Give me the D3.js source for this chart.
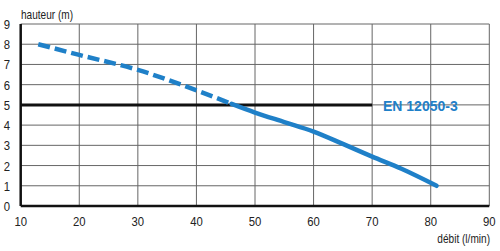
<!DOCTYPE html>
<html>
<head>
<meta charset="utf-8">
<script src="https://cdn.jsdelivr.net/npm/d3@7"></script>
<style>
  body { margin: 0; background: #fff; }
  text { font-family: "Liberation Sans", Arial, sans-serif; }
</style>
</head>
<body>
<svg></svg>
<script>
const width = 500;
const height = 251;

const xTicks = [10, 20, 30, 40, 50, 60, 70, 80, 90];
const yTicks = [0, 1, 2, 3, 4, 5, 6, 7, 8, 9];
const dashedFlow = [13, 20, 30, 40, 46];
const dashedHeight = [8.0, 7.47, 6.73, 5.72, 5.05];
const solidFlow = [46, 50, 55, 60, 65, 70, 75, 81];
const solidHeight = [5.05, 4.62, 4.15, 3.68, 3.07, 2.44, 1.84, 1.0];
const normFlow = [10, 70];
const normHeight = 5;
const normLabel = 'EN 12050-3';

const svg = d3.select('svg')
  .attr('width', width)
  .attr('height', height);

const x = d3.scaleLinear().domain([10, 90]).range([20.7, 489.3]);
const y = d3.scaleLinear().domain([0, 9]).range([206, 24]);

const blue = '#1f80c8';
const narrow = 0.84;

// grid
svg.append('g')
  .selectAll('line')
  .data(xTicks.slice(1))
  .join('line')
  .attr('x1', d => x(d))
  .attr('x2', d => x(d))
  .attr('y1', y(0))
  .attr('y2', y(9))
  .attr('stroke', '#666')
  .attr('stroke-width', 1);

svg.append('g')
  .selectAll('line')
  .data(yTicks.slice(1))
  .join('line')
  .attr('x1', x(10))
  .attr('x2', x(90))
  .attr('y1', d => y(d))
  .attr('y2', d => y(d))
  .attr('stroke', '#666')
  .attr('stroke-width', 1);

// axes
svg.append('line')
  .attr('x1', x(10)).attr('x2', x(10))
  .attr('y1', y(0)).attr('y2', y(9))
  .attr('stroke', '#111').attr('stroke-width', 2.5);

svg.append('line')
  .attr('x1', x(10)).attr('x2', x(90))
  .attr('y1', y(0)).attr('y2', y(0))
  .attr('stroke', '#111').attr('stroke-width', 2.5);

// tick labels
svg.append('g')
  .selectAll('text')
  .data(yTicks)
  .join('text')
  .attr('transform', d => `translate(7,${y(d) + 5}) scale(${narrow},1)`)
  .attr('text-anchor', 'middle')
  .attr('font-size', 13.5)
  .attr('fill', '#222')
  .text(d => d);

svg.append('g')
  .selectAll('text')
  .data(xTicks)
  .join('text')
  .attr('transform', d => `translate(${x(d)},226) scale(${narrow},1)`)
  .attr('text-anchor', 'middle')
  .attr('font-size', 13.5)
  .attr('fill', '#222')
  .text(d => d);

svg.append('text')
  .attr('transform', `translate(21,19) scale(${narrow},1)`)
  .attr('font-size', 12)
  .attr('fill', '#222')
  .text('hauteur (m)');

svg.append('text')
  .attr('transform', `translate(490,243) scale(${narrow},1)`)
  .attr('text-anchor', 'end')
  .attr('font-size', 12)
  .attr('fill', '#222')
  .text('débit (l/min)');

// norm line
svg.append('line')
  .attr('x1', x(normFlow[0])).attr('x2', x(normFlow[1]))
  .attr('y1', y(normHeight)).attr('y2', y(normHeight))
  .attr('stroke', '#111').attr('stroke-width', 3);

svg.append('text')
  .attr('x', 383)
  .attr('y', y(normHeight) + 6)
  .attr('font-family', '"DejaVu Sans", sans-serif')
  .attr('font-size', 14)
  .attr('font-weight', 'bold')
  .attr('fill', blue)
  .text(normLabel);

// curve
const line = d3.line()
  .x(d => x(d[0]))
  .y(d => y(d[1]))
  .curve(d3.curveMonotoneX);

svg.append('path')
  .datum(d3.zip(dashedFlow, dashedHeight))
  .attr('d', line)
  .attr('fill', 'none')
  .attr('stroke', blue)
  .attr('stroke-width', 4.5)
  .attr('stroke-dasharray', '12,5');

svg.append('path')
  .datum(d3.zip(solidFlow, solidHeight))
  .attr('d', line)
  .attr('fill', 'none')
  .attr('stroke', blue)
  .attr('stroke-width', 4.5)
  .attr('stroke-linecap', 'round');
</script>
</body>
</html>
